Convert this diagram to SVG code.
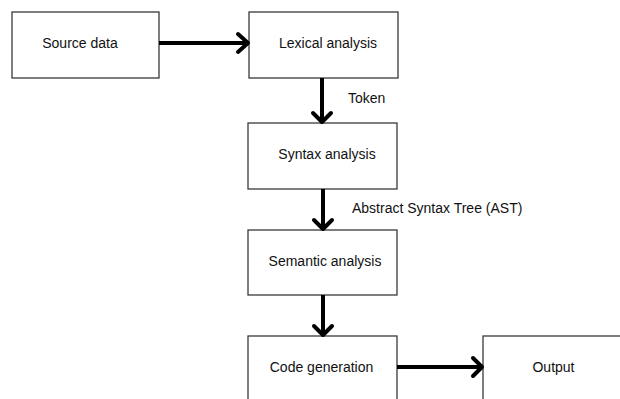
<svg xmlns="http://www.w3.org/2000/svg" width="620" height="399" viewBox="0 0 620 399">
  <style>
    .box { fill: #ffffff; stroke: #3a3a3a; stroke-width: 1.3; }
    .label { font-family: "Liberation Sans", Arial, sans-serif; font-size: 14px; fill: #111111; }
    .edge { fill: none; stroke: #000000; stroke-width: 4; }
    .head { fill: none; stroke: #000000; stroke-width: 4; stroke-linecap: round; stroke-linejoin: round; }
  </style>
  <rect width="620" height="399" fill="#ffffff"/>

  <g id="node-source">
    <rect class="box" x="12" y="12" width="147" height="66"/>
    <text class="label" x="80" y="48" text-anchor="middle">Source data</text>
  </g>
  <g id="node-lexical">
    <rect class="box" x="249" y="12" width="149" height="66"/>
    <text class="label" x="328" y="48" text-anchor="middle">Lexical analysis</text>
  </g>
  <g id="node-syntax">
    <rect class="box" x="248" y="123" width="149" height="66"/>
    <text class="label" x="327" y="159" text-anchor="middle">Syntax analysis</text>
  </g>
  <g id="node-semantic">
    <rect class="box" x="248" y="230" width="149" height="65"/>
    <text class="label" x="325" y="266" text-anchor="middle">Semantic analysis</text>
  </g>
  <g id="node-codegen">
    <rect class="box" x="248" y="336" width="149" height="70"/>
    <text class="label" x="321.5" y="372" text-anchor="middle">Code generation</text>
  </g>
  <g id="node-output">
    <rect class="box" x="483" y="336" width="140" height="70"/>
    <text class="label" x="553.5" y="372" text-anchor="middle">Output</text>
  </g>

  <g id="connectors">
    <!-- Source data -> Lexical analysis -->
    <line class="edge" x1="159" y1="43" x2="247" y2="43"/>
    <path class="head" d="M238,34 L248,43 L238,52"/>
    <!-- Lexical -> Syntax -->
    <line class="edge" x1="322" y1="78" x2="322" y2="121"/>
    <path class="head" d="M313,113 L322,122 L331,113"/>
    <text class="label" x="348" y="103">Token</text>
    <!-- Syntax -> Semantic -->
    <line class="edge" x1="323" y1="189" x2="323" y2="228"/>
    <path class="head" d="M314,220 L323,229 L332,220"/>
    <text class="label" x="352" y="213">Abstract Syntax Tree (AST)</text>
    <!-- Semantic -> Code generation -->
    <line class="edge" x1="323" y1="295" x2="323" y2="334"/>
    <path class="head" d="M314,326 L323,335 L332,326"/>
    <!-- Code generation -> Output -->
    <line class="edge" x1="397" y1="367" x2="481" y2="367"/>
    <path class="head" d="M473,358 L482,367 L473,376"/>
  </g>
</svg>
